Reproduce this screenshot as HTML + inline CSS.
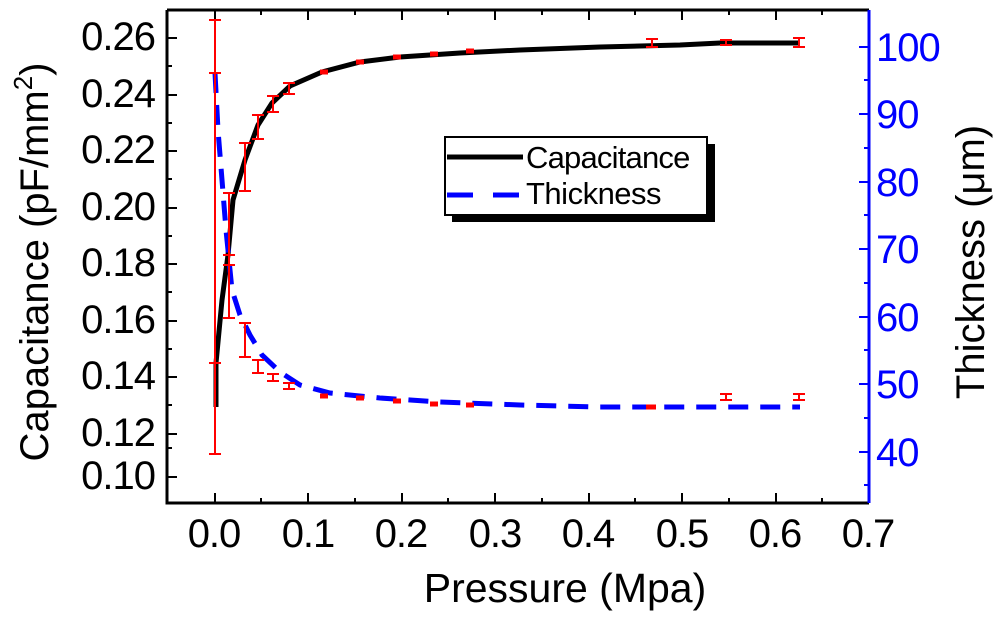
<!DOCTYPE html>
<html><head><meta charset="utf-8"><style>
html,body{margin:0;padding:0;background:#fff;}
svg{display:block;font-family:"Liberation Sans",sans-serif;}
</style></head><body>
<svg width="1006" height="628" viewBox="0 0 1006 628" xmlns="http://www.w3.org/2000/svg">
<rect width="1006" height="628" fill="#fff"/>
<!-- frame -->
<path d="M167,10 H869 M167,10 V503 H869" stroke="#000" stroke-width="3" fill="none"/>
<line x1="869" y1="10" x2="869" y2="503" stroke="#00f" stroke-width="3"/>
<!-- x ticks -->
<g stroke="#000" stroke-width="2">
<line x1="215" y1="503" x2="215" y2="493"/><line x1="308" y1="503" x2="308" y2="493"/><line x1="402" y1="503" x2="402" y2="493"/><line x1="495" y1="503" x2="495" y2="493"/><line x1="589" y1="503" x2="589" y2="493"/><line x1="682" y1="503" x2="682" y2="493"/><line x1="776" y1="503" x2="776" y2="493"/>
<line x1="261" y1="503" x2="261" y2="498"/><line x1="355" y1="503" x2="355" y2="498"/><line x1="448" y1="503" x2="448" y2="498"/><line x1="542" y1="503" x2="542" y2="498"/><line x1="635" y1="503" x2="635" y2="498"/><line x1="729" y1="503" x2="729" y2="498"/><line x1="822" y1="503" x2="822" y2="498"/>
<line x1="215" y1="10" x2="215" y2="20"/><line x1="308" y1="10" x2="308" y2="20"/><line x1="402" y1="10" x2="402" y2="20"/><line x1="495" y1="10" x2="495" y2="20"/><line x1="589" y1="10" x2="589" y2="20"/><line x1="682" y1="10" x2="682" y2="20"/><line x1="776" y1="10" x2="776" y2="20"/>
<line x1="261" y1="10" x2="261" y2="15"/><line x1="355" y1="10" x2="355" y2="15"/><line x1="448" y1="10" x2="448" y2="15"/><line x1="542" y1="10" x2="542" y2="15"/><line x1="635" y1="10" x2="635" y2="15"/><line x1="729" y1="10" x2="729" y2="15"/><line x1="822" y1="10" x2="822" y2="15"/>
<!-- left y ticks -->
<line x1="167" y1="38" x2="177" y2="38"/><line x1="167" y1="95" x2="177" y2="95"/><line x1="167" y1="151" x2="177" y2="151"/><line x1="167" y1="208" x2="177" y2="208"/><line x1="167" y1="264" x2="177" y2="264"/><line x1="167" y1="321" x2="177" y2="321"/><line x1="167" y1="377" x2="177" y2="377"/><line x1="167" y1="434" x2="177" y2="434"/><line x1="167" y1="477" x2="177" y2="477"/>
<line x1="167" y1="66" x2="172" y2="66"/><line x1="167" y1="123" x2="172" y2="123"/><line x1="167" y1="179" x2="172" y2="179"/><line x1="167" y1="236" x2="172" y2="236"/><line x1="167" y1="292" x2="172" y2="292"/><line x1="167" y1="349" x2="172" y2="349"/><line x1="167" y1="405" x2="172" y2="405"/><line x1="167" y1="448" x2="172" y2="448"/>
</g>
<!-- right y ticks -->
<g stroke="#00f" stroke-width="2">
<line x1="859" y1="47" x2="869" y2="47"/><line x1="859" y1="114" x2="869" y2="114"/><line x1="859" y1="182" x2="869" y2="182"/><line x1="859" y1="249" x2="869" y2="249"/><line x1="859" y1="317" x2="869" y2="317"/><line x1="859" y1="384" x2="869" y2="384"/><line x1="859" y1="452" x2="869" y2="452"/>
<line x1="864" y1="80" x2="869" y2="80"/><line x1="864" y1="148" x2="869" y2="148"/><line x1="864" y1="215" x2="869" y2="215"/><line x1="864" y1="283" x2="869" y2="283"/><line x1="864" y1="350" x2="869" y2="350"/><line x1="864" y1="418" x2="869" y2="418"/><line x1="864" y1="485" x2="869" y2="485"/>
</g>
<!-- left tick labels -->
<g font-size="40" fill="#000" text-anchor="end" letter-spacing="-1">
<text x="155" y="50">0.26</text><text x="155" y="107">0.24</text><text x="155" y="163">0.22</text><text x="155" y="220">0.20</text><text x="155" y="276">0.18</text><text x="155" y="333">0.16</text><text x="155" y="389">0.14</text><text x="155" y="446">0.12</text><text x="155" y="489">0.10</text>
</g>
<g font-size="40" fill="#00f" letter-spacing="-1">
<text x="876" y="61">100</text><text x="876" y="128">90</text><text x="876" y="196">80</text><text x="876" y="263">70</text><text x="876" y="331">60</text><text x="876" y="398">50</text><text x="876" y="466">40</text>
</g>
<g font-size="40" fill="#000" text-anchor="middle" letter-spacing="-1">
<text x="214" y="547">0.0</text><text x="308" y="547">0.1</text><text x="401" y="547">0.2</text><text x="495" y="547">0.3</text><text x="588" y="547">0.4</text><text x="682" y="547">0.5</text><text x="775" y="547">0.6</text><text x="868" y="547">0.7</text>
</g>
<text x="565" y="602" font-size="41" text-anchor="middle">Pressure (Mpa)</text>
<text transform="translate(48,262) rotate(-90)" font-size="40" text-anchor="middle">Capacitance (pF/mm<tspan font-size="26" dy="-16">2</tspan><tspan dy="16">)</tspan></text>
<text transform="translate(984,262) rotate(-90)" font-size="40" text-anchor="middle">Thickness (μm)</text>
<!-- curves -->
<polyline fill="none" stroke="#000" stroke-width="5" points="216,407 216,363 222,300 228,255 233,200 245,160 258,125 272,103 290,86 322,72 360,62 400,57 460,53 520,50 600,47 680,45 720,43 800,43"/>
<polyline fill="none" stroke="#00f" stroke-width="5" stroke-dasharray="20,12" points="215,73 218,130 222,180 226,230 232,290 240,315 250,335 262,355 280,372 300,385 330,393 380,398 440,402 520,405 600,407 800,407"/>
<!-- error bars -->
<g stroke="#f00" stroke-width="2" fill="none">
<path d="M215,20 V454 M209,20 H221 M209,454 H221 M209,73 H221 M209,363 H221"/>
<path d="M229,193 V318 M223,193 H235 M223,318 H235 M223,255 H235 M223,265 H235"/>
<path d="M245,143 V191 M239,143 H251 M239,191 H251"/>
<path d="M245,323 V357 M239,323 H251 M239,357 H251"/>
<path d="M258,115 V139 M252,115 H264 M252,139 H264"/>
<path d="M258,360 V373 M252,360 H264 M252,373 H264"/>
<path d="M273,96 V112 M267,96 H279 M267,112 H279"/>
<path d="M273,374 V381 M267,374 H279 M267,381 H279"/>
<path d="M289,83 V94 M283,83 H295 M283,94 H295"/>
<path d="M289,383 V389 M283,383 H295 M283,389 H295"/>
<path d="M652,39 V47 M646,39 H658 M646,47 H658"/>
<path d="M726,40 V45 M720,40 H732 M720,45 H732"/>
<path d="M799,38 V47 M793,38 H805 M793,47 H805"/>
<path d="M726,394 V400 M720,394 H732 M720,400 H732"/>
<path d="M799,394 V400 M793,394 H805 M793,400 H805"/>
</g>
<g stroke="#f00" stroke-width="5">
<line x1="320" y1="72" x2="328" y2="72"/><line x1="356" y1="62" x2="364" y2="62"/><line x1="393" y1="57" x2="401" y2="57"/><line x1="430" y1="54" x2="438" y2="54"/><line x1="466" y1="51" x2="474" y2="51"/>
<line x1="320" y1="396" x2="328" y2="396"/><line x1="356" y1="398" x2="364" y2="398"/><line x1="393" y1="401" x2="401" y2="401"/><line x1="430" y1="404" x2="438" y2="404"/><line x1="466" y1="405" x2="474" y2="405"/><line x1="646" y1="407" x2="656" y2="407"/>
</g>
<!-- legend -->
<rect x="452" y="144" width="263" height="78" fill="#000"/>
<rect x="445" y="137" width="262" height="78" fill="#fff" stroke="#000" stroke-width="2"/>
<line x1="447" y1="157" x2="523" y2="157" stroke="#000" stroke-width="5"/>
<line x1="447" y1="195" x2="523" y2="195" stroke="#00f" stroke-width="5" stroke-dasharray="26,20"/>
<text x="526" y="168" font-size="31" letter-spacing="-0.8">Capacitance</text>
<text x="526" y="204" font-size="31" letter-spacing="-0.5">Thickness</text>
</svg>
</body></html>
